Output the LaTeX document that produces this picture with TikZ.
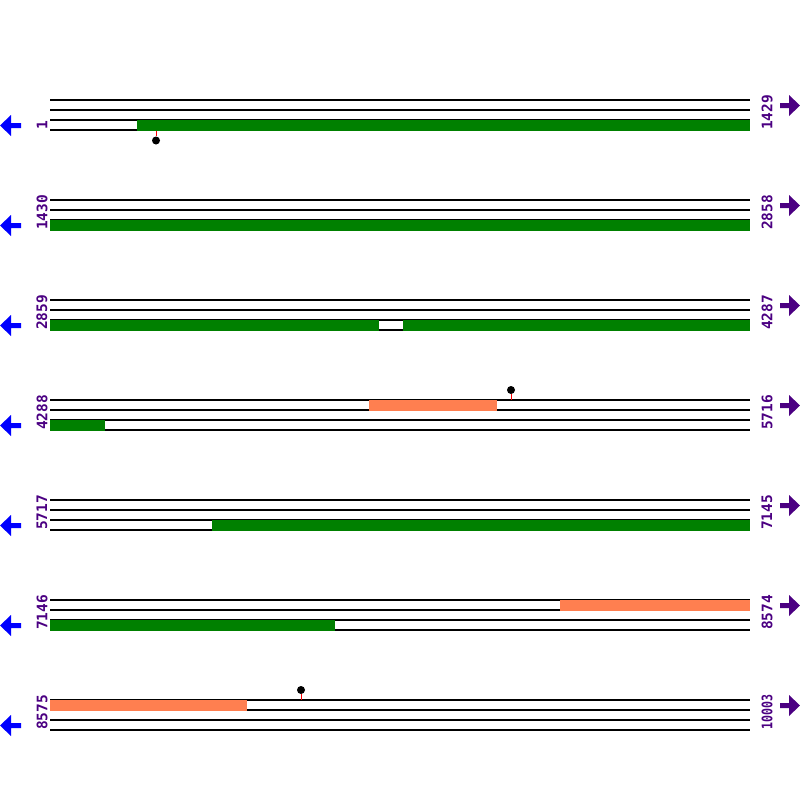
\documentclass[tikz,border=0pt]{standalone}
\usepackage{fontspec}
\setmainfont{Liberation Sans}
\newfontfamily\lblfont{DejaVu Sans Mono}
\definecolor{gbar}{RGB}{0,128,0}
\definecolor{sbar}{RGB}{255,127,80}
\definecolor{lbl}{RGB}{75,0,130}
\definecolor{larr}{RGB}{0,0,255}
\begin{document}
\begin{tikzpicture}[x=1pt,y=-1pt,
  track/.style={black,line width=1.1pt},
  gfill/.style={fill=gbar},
  sfill/.style={fill=sbar},
  stick/.style={red,line width=1pt},
  dot/.style={circle,fill=black,inner sep=0pt,minimum size=8pt},
  numlbl/.style={text=lbl,font=\lblfont\bfseries\fontsize{14.5}{15}\selectfont,rotate=90,anchor=west,inner sep=0pt},
  leftarr/.style={fill=larr},
  rightarr/.style={fill=lbl}]
\useasboundingbox (0,0) rectangle (800,800);
% rows
\foreach \r/\a/\b in {0/1/1429,1/1430/2858,2/2859/4287,3/4288/5716,4/5717/7145,5/7146/8574,6/8575/\scalebox{0.8}[1]{10003}}{
  \pgfmathsetmacro{\yy}{100+100*\r}
  \node[numlbl] (l\r) at (42,\yy+30) {\a};
  \node[numlbl] (r\r) at (767,\yy+30) {\b};
  \fill[leftarr] (0,\yy+25.5) -- (11,\yy+15) -- (11,\yy+23) -- (21,\yy+23) -- (21,\yy+28) -- (11,\yy+28) -- (11,\yy+36) -- cycle;
  \fill[rightarr] (800,\yy+5.5) -- (789,\yy-5) -- (789,\yy+3) -- (780,\yy+3) -- (780,\yy+8) -- (789,\yy+8) -- (789,\yy+16) -- cycle;
}
% track lines
\foreach \r in {0,...,6}{
  \foreach \k in {0,1,2,3}{
    \pgfmathsetmacro{\yy}{100+100*\r+10*\k}
    \draw[track] (50,\yy) -- (750,\yy);
  }
}
% bars
\fill[gfill] (137,119.5) rectangle (750,130.5);
\fill[gfill] (50,219.5) rectangle (750,230.5);
\fill[gfill] (50,319.5) rectangle (379,330.5);
\fill[gfill] (403,319.5) rectangle (750,330.5);
\fill[sfill] (369,399.5) rectangle (497,410.5);
\fill[gfill] (50,419.5) rectangle (105,430.5);
\fill[gfill] (212,519.5) rectangle (750,530.5);
\fill[sfill] (560,599.5) rectangle (750,610.5);
\fill[gfill] (50,619.5) rectangle (335,630.5);
\fill[sfill] (50,699.5) rectangle (247,710.5);
% lollipops
\node[dot] (p1) at (156,140.5) {};
\draw[stick] (156,130.5) -- (p1.north);
\node[dot] (p2) at (511,390) {};
\draw[stick] (p2.south) -- (511,399.5);
\node[dot] (p3) at (301,690) {};
\draw[stick] (p3.south) -- (301,699.5);
\end{tikzpicture}
\end{document}
